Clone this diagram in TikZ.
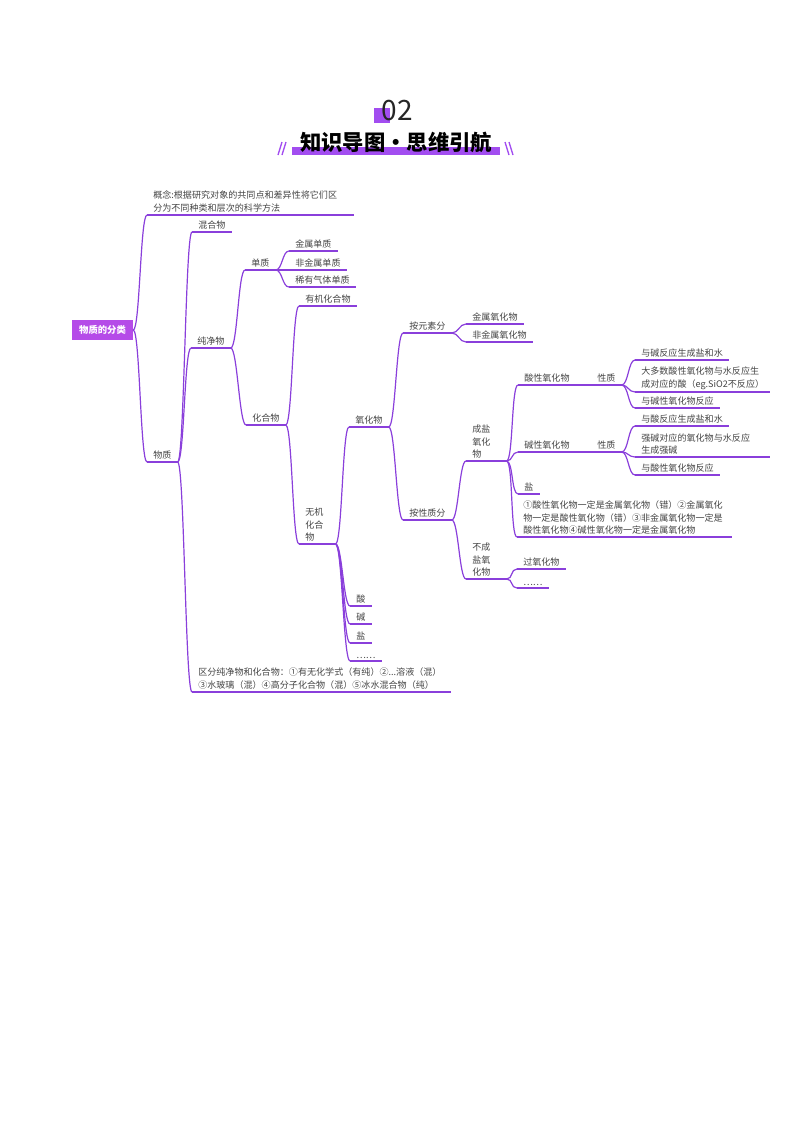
\documentclass[tikz,border=0pt]{standalone}
\usepackage{fontspec}
\setmainfont{Noto Sans CJK SC}
\usetikzlibrary{positioning}
\definecolor{mmline}{HTML}{8A3FDB}
\definecolor{mmroot}{HTML}{B54BE8}
\definecolor{mmbar}{HTML}{A24DF0}
\definecolor{mmtext}{HTML}{444444}

\begin{document}
\begin{tikzpicture}[
    x=0.75pt, y=-0.75pt,
    font=\fontsize{6.8}{9.4}\selectfont,
    leaf/.style={anchor=south west, inner xsep=4.5pt, inner ysep=1.8pt, align=left, text=mmtext},
    root/.style={fill=mmroot, text=white, font=\fontsize{7}{8}\selectfont\bfseries, minimum width=45.75pt, minimum height=15pt, inner sep=0pt},
    uline/.style={draw=mmline, line width=0.9pt},
    branch/.style={draw=mmline, line width=0.9pt, out=0, in=180, out distance=5pt, in distance=5pt}
]
\useasboundingbox (0,0) rectangle (800,1132);

% title
\fill[mmbar] (374,108) rectangle (390,123);
\node[text=black!85] (num) at (397,111) {\fontsize{21}{21}\selectfont 02};
\fill[mmbar] (292,147) rectangle (500,155);
\node[text=black] (title) at (396,142) {\fontsize{16}{16}\selectfont\bfseries 知识导图·思维引航};
\draw[mmbar, line width=1pt] (278,155) -- (282,142) (282,155) -- (286,142);
\draw[mmbar, line width=1pt] (505,142) -- (509,155) (509,142) -- (513,155);

\node[root] (fenlei) at (102.5,330) {物质的分类};

\node[leaf, text width=145.5pt] (gainian) at (147,215) {概念:根据研究对象的共同点和差异性将它们区\\分为不同种类和层次的科学方法};
\node[leaf] (wuzhi) at (147,462) {物质};

\node[leaf] (hunhe) at (192,232) {混合物};
\node[leaf] (chunjing) at (191,348) {纯净物};
\node[leaf, text width=184.5pt] (qufen) at (192,692) {区分纯净物和化合物：①有无化学式（有纯）②...溶液（混）\\③水玻璃（混）④高分子化合物（混）⑤冰水混合物（纯）};

\node[leaf] (danzhi) at (245,270) {单质};
\node[leaf] (huahe) at (246,425) {化合物};

\node[leaf] (jinshu) at (289,251) {金属单质};
\node[leaf] (feijinshu) at (289,270) {非金属单质};
\node[leaf] (xiyou) at (289,287) {稀有气体单质};

\node[leaf] (youji) at (299,306) {有机化合物};
\node[leaf, text width=18pt] (wuji) at (299,544) {无机\\化合\\物};

\node[leaf] (yanghua) at (349,427) {氧化物};
\node[leaf] (suan) at (350,606) {酸};
\node[leaf] (jian) at (350,624) {碱};
\node[leaf] (yan) at (350,643) {盐};
\node[leaf] (qita) at (350,661) {……};

\node[leaf] (yuansu) at (403,333) {按元素分};
\node[leaf] (xingzhi) at (403,520) {按性质分};

\node[leaf] (jinyang) at (466,324) {金属氧化物};
\node[leaf] (feijinyang) at (466,342) {非金属氧化物};

\node[leaf, text width=21pt] (chengyan) at (466,461) {成盐\\氧化\\物};
\node[leaf, text width=21pt] (buchengyan) at (466,579) {不成\\盐氧\\化物};

\node[leaf] (suanyang) at (518,385) {酸性氧化物};
\node[leaf] (suanxz) at (591,385) {性质};
\node[leaf] (jianyang) at (518,452) {碱性氧化物};
\node[leaf] (jianxz) at (591,452) {性质};
\node[leaf] (cyyan) at (518,494) {盐};
\node[leaf, text width=152pt] (panduan) at (517,537) {①酸性氧化物一定是金属氧化物（错）②金属氧化\\物一定是酸性氧化物（错）③非金属氧化物一定是\\酸性氧化物④碱性氧化物一定是金属氧化物};

\node[leaf] (guoyang) at (517,569) {过氧化物};
\node[leaf] (qita2) at (517,588) {……};

\node[leaf] (sx1) at (635,360) {与碱反应生成盐和水};
\node[leaf, text width=92pt] (sx2) at (635,392) {大多数酸性氧化物与水反应生\\成对应的酸（eg.SiO2不反应）};
\node[leaf] (sx3) at (635,408) {与碱性氧化物反应};

\node[leaf] (jx1) at (635,426) {与酸反应生成盐和水};
\node[leaf, text width=92pt] (jx2) at (635,457) {强碱对应的氧化物与水反应\\生成强碱};
\node[leaf] (jx3) at (635,475) {与酸性氧化物反应};

\foreach \n in {gainian, wuzhi, hunhe, chunjing, qufen, danzhi, huahe, jinshu, feijinshu, xiyou,
    youji, wuji, yanghua, suan, jian, yan, qita, yuansu, xingzhi, jinyang, feijinyang,
    chengyan, buchengyan, suanyang, suanxz, jianyang, jianxz, cyyan, panduan, guoyang, qita2,
    sx1, sx2, sx3, jx1, jx2, jx3}
    \draw[uline] (\n.south west) -- (\n.south east);

\draw[branch] (fenlei.east) to (gainian.south west);
\draw[branch] (fenlei.east) to (wuzhi.south west);

\foreach \a/\b in {wuzhi/hunhe, wuzhi/chunjing, wuzhi/qufen, chunjing/danzhi, chunjing/huahe,
    danzhi/jinshu, danzhi/feijinshu, danzhi/xiyou, huahe/youji, huahe/wuji,
    wuji/yanghua, wuji/suan, wuji/jian, wuji/yan, wuji/qita, yanghua/yuansu, yanghua/xingzhi,
    yuansu/jinyang, yuansu/feijinyang, xingzhi/chengyan, xingzhi/buchengyan,
    chengyan/suanyang, chengyan/jianyang, chengyan/cyyan, chengyan/panduan,
    suanyang/suanxz, jianyang/jianxz, suanxz/sx1, suanxz/sx2, suanxz/sx3,
    jianxz/jx1, jianxz/jx2, jianxz/jx3, buchengyan/guoyang, buchengyan/qita2}
    \draw[branch] (\a.south east) to (\b.south west);
\end{tikzpicture}
\end{document}
